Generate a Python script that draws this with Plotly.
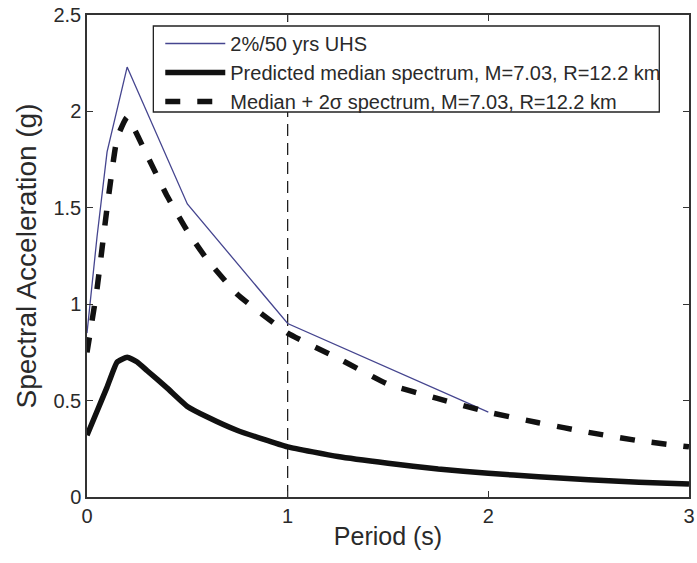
import plotly.graph_objects as go

# UHS (2%/50 yrs)
uhs_T = [0, 0.05, 0.1, 0.2, 0.5, 1.0, 2.0]
uhs_SA = [0.85, 1.35, 1.79, 2.23, 1.52, 0.90, 0.44]

# Predicted median spectrum
med_T = [0, 0.05, 0.1, 0.15, 0.2, 0.25, 0.3, 0.4, 0.5, 0.6, 0.75, 1.0, 1.25,
         1.5, 1.75, 2.0, 2.25, 2.5, 2.75, 3.0]
med_SA = [0.32, 0.445, 0.57, 0.70, 0.725, 0.70, 0.655, 0.565, 0.47, 0.415,
          0.345, 0.26, 0.21, 0.175, 0.145, 0.123, 0.105, 0.09, 0.077, 0.067]

# Median + 2 sigma spectrum
p2s_T = [0, 0.05, 0.1, 0.15, 0.2, 0.3, 0.4, 0.5, 0.6, 0.75, 1.0, 1.25, 1.5,
         1.75, 2.0, 2.25, 2.5, 2.75, 3.0]
p2s_SA = [0.75, 1.08, 1.50, 1.86, 1.97, 1.77, 1.56, 1.38, 1.23, 1.05, 0.85,
          0.72, 0.585, 0.51, 0.44, 0.385, 0.335, 0.292, 0.26]

# Conditioning period
t_star = 1.0
y_range = [0, 2.5]

x_ticks = [0, 1, 2, 3]
y_ticks = [0, 0.5, 1, 1.5, 2, 2.5]
y_ticktext = ["0", "0.5", "1", "1.5", "2", "2.5"]

names = ["2%/50 yrs UHS",
         "Predicted median spectrum, M=7.03, R=12.2 km",
         "Median + 2σ spectrum, M=7.03, R=12.2 km"]

FONT = "Liberation Sans, Arial, Helvetica, sans-serif"
TXT = "#2a2a2a"

W, H = 697, 563
ML, MR, MT, MB = 87, 2, 15, 66
PW, PH = W - ML - MR, H - MT - MB


def px_to_paper_x(px):
    return (px - ML) / PW


def px_to_paper_y(py):
    return (H - MB - py) / PH


fig = go.Figure()
fig.add_trace(go.Scatter(x=[t_star, t_star], y=y_range, mode="lines",
                         line=dict(color="#111111", width=1.2, dash="12px,7px"),
                         showlegend=False, hoverinfo="skip"))
fig.add_trace(go.Scatter(x=uhs_T, y=uhs_SA, mode="lines", name=names[0],
                         line=dict(color="#45458f", width=1.3)))
fig.add_trace(go.Scatter(x=med_T, y=med_SA, mode="lines", name=names[1],
                         line=dict(color="#111111", width=5.5, shape="spline", smoothing=0.4)))
fig.add_trace(go.Scatter(x=p2s_T, y=p2s_SA, mode="lines", name=names[2],
                         line=dict(color="#111111", width=5.5, dash="15px,17px",
                                   shape="spline", smoothing=0.4)))

# legend frame (drawn as a shape so its padding matches the original)
fig.add_shape(type="rect", xref="paper", yref="paper", layer="above",
              x0=px_to_paper_x(154), x1=px_to_paper_x(665),
              y0=px_to_paper_y(112), y1=px_to_paper_y(26),
              line=dict(color="#222222", width=1.3), fillcolor="white")

axis_common = dict(showline=True, linecolor="#333333", linewidth=1.5, mirror="ticks",
                   ticks="inside", ticklen=6, tickcolor="#333333", tickwidth=1.2,
                   showgrid=False, zeroline=False, ticklabeloverflow="allow",
                   tickfont=dict(family=FONT, size=20, color=TXT))

fig.update_xaxes(range=[0, 3], tickvals=x_ticks, ticktext=[str(v) for v in x_ticks],
                 title=dict(text="Period (s)", font=dict(family=FONT, size=25, color=TXT),
                            standoff=2),
                 **axis_common)
fig.update_yaxes(range=y_range, tickvals=y_ticks, ticktext=y_ticktext,
                 title=dict(text="Spectral Acceleration (g)",
                            font=dict(family=FONT, size=28, color=TXT), standoff=9),
                 **axis_common)

fig.update_layout(
    width=W, height=H,
    margin=dict(l=ML, r=MR, t=MT, b=MB),
    paper_bgcolor="white", plot_bgcolor="white",
    font=dict(family=FONT, color=TXT),
    legend=dict(x=px_to_paper_x(161), y=px_to_paper_y(24), xanchor="left", yanchor="top",
                bgcolor="rgba(0,0,0,0)", borderwidth=0,
                font=dict(family=FONT, size=20, color=TXT),
                itemwidth=60, tracegroupgap=0),
    showlegend=True,
)

fig.write_html("out.html")
